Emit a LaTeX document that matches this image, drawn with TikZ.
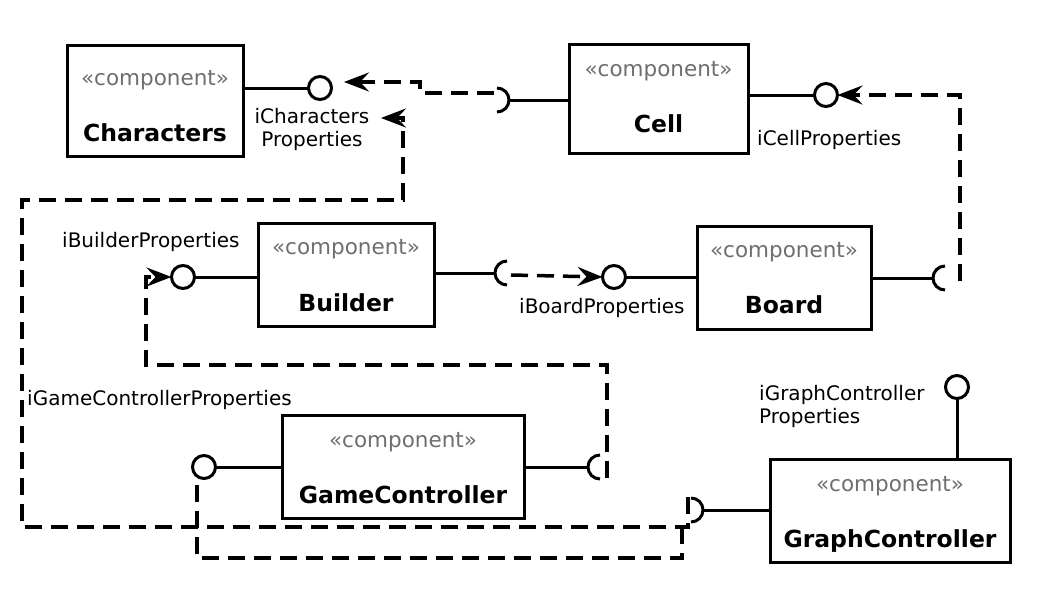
\documentclass[tikz,border=0pt]{standalone}
\usepackage{fontspec}
\setmainfont{DejaVu Sans}
\usetikzlibrary{arrows.meta}
\definecolor{stereo}{HTML}{6E6E6E}
\tikzset{
  comp/.style={draw, line width=3pt, inner sep=0pt, outer sep=0pt},
  stereotxt/.style={anchor=base, inner sep=0pt, text=stereo, font=\fontsize{21.5}{25}\selectfont},
  nametxt/.style={anchor=base, inner sep=0pt, font=\fontsize{23.5}{27}\selectfont\bfseries},
  lbl/.style={inner sep=0pt, font=\fontsize{20}{23}\selectfont},
  lolli/.style={circle, draw, line width=3pt, minimum size=23pt, inner sep=0pt, outer sep=0pt},
  conn/.style={line width=3pt},
  sockarc/.style={line width=3pt},
  dep/.style={line width=3.5pt, dash pattern=on 17pt off 9pt},
  deparrow/.style={dep, -{Stealth[length=25pt,width=19pt,inset=9pt]}}
}
\begin{document}
\begin{tikzpicture}[x=1pt,y=-1pt]
\useasboundingbox (0,0) rectangle (1057,595);

% ---------- components ----------
\node[comp, minimum width=176pt, minimum height=111pt] (chars) at (155,100.5) {};
\node[stereotxt] (charsS) at (155,85) {«component»};
\node[nametxt] (charsN) at (155,141) {Characters};

\node[comp, minimum width=179pt, minimum height=109pt] (cell) at (658.5,98.5) {};
\node[stereotxt] (cellS) at (658.5,76) {«component»};
\node[nametxt] (cellN) at (658.5,132) {Cell};

\node[comp, minimum width=176pt, minimum height=103pt] (builder) at (346,274.5) {};
\node[stereotxt] (builderS) at (346,254) {«component»};
\node[nametxt] (builderN) at (346,311) {Builder};

\node[comp, minimum width=174pt, minimum height=103pt] (board) at (784,277.5) {};
\node[stereotxt] (boardS) at (784,257) {«component»};
\node[nametxt] (boardN) at (784,313) {Board};

\node[comp, minimum width=242pt, minimum height=103pt] (gamec) at (403,466.5) {};
\node[stereotxt] (gamecS) at (403,447) {«component»};
\node[nametxt] (gamecN) at (403,503) {GameController};

\node[comp, minimum width=240pt, minimum height=103pt] (graphc) at (890,510.5) {};
\node[stereotxt] (graphcS) at (890,491) {«component»};
\node[nametxt] (graphcN) at (890,547) {GraphController};

% ---------- provided interfaces (lollipops) ----------
\node[lolli] (lpChar) at (320,88) {};
\node[lolli] (lpCell) at (826,95) {};
\node[lolli] (lpBuilder) at (183,277) {};
\node[lolli] (lpBoard) at (614,277) {};
\node[lolli] (lpGame) at (204,467) {};
\node[lolli] (lpGraph) at (957,387) {};

\draw[conn] (chars.east |- lpChar) -- (lpChar.west);
\draw[conn] (cell.east |- lpCell) -- (lpCell.west);
\draw[conn] (builder.west |- lpBuilder) -- (lpBuilder.east);
\draw[conn] (board.west |- lpBoard) -- (lpBoard.east);
\draw[conn] (gamec.west |- lpGame) -- (lpGame.east);
\draw[conn] (graphc.north -| lpGraph) -- (lpGraph.south);

% ---------- interface labels ----------
\node[lbl, align=center, anchor=base] (lblChar) at (312,146) {iCharacters\\Properties};
\node[lbl, anchor=base west] (lblCell) at (757,145) {iCellProperties};
\node[lbl, anchor=base west] (lblBuilder) at (62,247) {iBuilderProperties};
\node[lbl, anchor=base west] (lblBoard) at (519,313) {iBoardProperties};
\node[lbl, anchor=base west] (lblGame) at (27,405) {iGameControllerProperties};
\node[lbl, align=left, anchor=base west] (lblGraph) at (759,423) {iGraphController\\Properties};

% ---------- required interfaces (sockets) ----------
\coordinate (sCell) at (509,100);
\coordinate (sBuilder) at (495,273);
\coordinate (sBoard) at (933,278);
\coordinate (sGame) at (588,467);
\coordinate (sGraph) at (703,510);

\draw[conn] (cell.west |- sCell) -- (sCell);
\draw[sockarc] (sCell) arc[start angle=0, end angle=90, radius=12pt]
               (sCell) arc[start angle=0, end angle=-90, radius=12pt];

\draw[conn] (builder.east |- sBuilder) -- (sBuilder);
\draw[sockarc] (sBuilder) arc[start angle=180, end angle=90, radius=12pt]
               (sBuilder) arc[start angle=180, end angle=270, radius=12pt];

\draw[conn] (board.east |- sBoard) -- (sBoard);
\draw[sockarc] (sBoard) arc[start angle=180, end angle=90, radius=12pt]
               (sBoard) arc[start angle=180, end angle=270, radius=12pt];

\draw[conn] (gamec.east |- sGame) -- (sGame);
\draw[sockarc] (sGame) arc[start angle=180, end angle=90, radius=12pt]
               (sGame) arc[start angle=180, end angle=270, radius=12pt];

\draw[conn] (graphc.west |- sGraph) -- (sGraph);
\draw[sockarc] (sGraph) arc[start angle=0, end angle=90, radius=12pt]
               (sGraph) arc[start angle=0, end angle=-90, radius=12pt];

% ---------- dependencies (dashed) ----------
\coordinate (dCellEnd) at (344,82);
\draw[deparrow] (494,93) -- (420,93) -- (420,82) -- (dCellEnd);

\draw[deparrow] (511,275) -- (lpBoard.west);

\draw[deparrow] (960,281) |- (lpCell.east);

\draw[deparrow] (607,478) -- (607,365) -- (146,365) -- (146,277) -- (lpBuilder.west);

\coordinate (dCharEnd) at (381,118);
\draw[deparrow] (688,497) -- (688,527) -- (22,527) -- (22,200) -- (403,200) -- (403,118) -- (dCharEnd);

\draw[dep] (682,527) -- (682,558) -- (197,558) -- (197,479);
\end{tikzpicture}
\end{document}
